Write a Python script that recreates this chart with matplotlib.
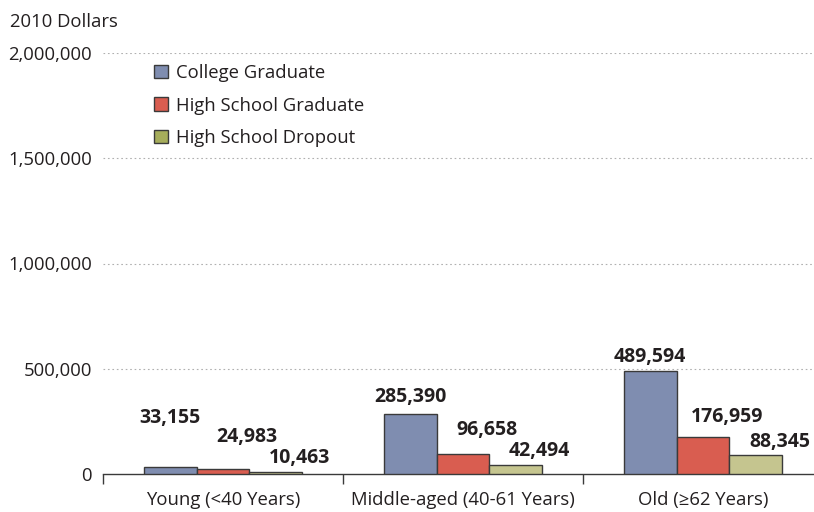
import numpy as np
import matplotlib
matplotlib.use("Agg")
import matplotlib.pyplot as plt
from matplotlib.patches import Patch

# Data
categories = ["Young (<40 Years)", "Middle-aged (40-61 Years)", "Old (\u226562 Years)"]
series_names = ["College Graduate", "High School Graduate", "High School Dropout"]
college = [33155, 285390, 489594]
hs_grad = [24983, 96658, 176959]
dropout = [10463, 42494, 88345]
y_ticks = [0, 500000, 1000000, 1500000, 2000000]

# Styles
bar_colors = ["#7f8db0", "#d95d50", "#c5c58f"]
legend_colors = ["#7f8db0", "#d95d50", "#a6ad5b"]
edge = "#3a3a3a"
bar_w = 0.22
# label offsets (points) relative to bar top, per series / category
label_dx = [0, 17, 17]
label_dy = [[35, 23, 10], [12, 17, 10], [10, 14, 10]]

plt.rcParams['font.family'] = ['Open Sans', 'DejaVu Sans']
fs = 13.3

fig = plt.figure(figsize=(8.14, 5.12), dpi=100)
ax = fig.add_axes([103 / 814, 38 / 512, 1 - 103 / 814, (474 - 53) / 512])

x = np.arange(len(categories))
all_series = [college, hs_grad, dropout]
for i, vals in enumerate(all_series):
    xs = x + (i - 1) * bar_w
    ax.bar(xs, vals, width=bar_w, color=bar_colors[i], edgecolor=edge,
           linewidth=1, zorder=3)
    for j, v in enumerate(vals):
        ax.annotate(f"{v:,}", (xs[j], v), xytext=(label_dx[i], label_dy[j][i]),
                    textcoords="offset points", ha="center", va="center",
                    fontsize=14, fontweight="bold", color="#231f20")

ax.set_xlim(-0.5, (814 - 103) / 240 - 0.5)
ax.set_ylim(0, 2000000)
ax.set_yticks(y_ticks)
ax.set_yticklabels([f"{t:,}" for t in y_ticks], fontsize=fs, color="#231f20")
ax.tick_params(axis="y", length=0, pad=8)
for t in y_ticks[1:]:
    ax.axhline(t, color="#b0b0b0", linestyle=(0, (1.5, 2.5)), linewidth=0.8, zorder=1)

ax.set_xticks(x)
ax.set_xticklabels(categories, fontsize=fs, color="#231f20")
ax.tick_params(axis="x", length=0, pad=12)
# separator ticks between categories
ax.set_xticks([-0.5, 0.5, 1.5], minor=True)
ax.tick_params(axis="x", which="minor", length=7, width=1, color="#3a3a3a", direction="out")

for s in ["top", "right", "left"]:
    ax.spines[s].set_visible(False)
ax.spines["bottom"].set_color("#3a3a3a")
ax.spines["bottom"].set_linewidth(1)

fig.text(10 / 814, 1 - 22 / 512, "2010 Dollars", fontsize=fs, color="#231f20",
         va="center", ha="left")

handles = [Patch(facecolor=legend_colors[i], edgecolor=edge, label=series_names[i])
           for i in range(3)]
ax.legend(handles=handles, loc="upper left", bbox_to_anchor=(0.048, 1.013),
          frameon=False, fontsize=fs, handlelength=0.75, handleheight=0.75,
          handletextpad=0.45, labelspacing=0.78, labelcolor="#231f20")

fig.savefig("out.png", dpi=100)
